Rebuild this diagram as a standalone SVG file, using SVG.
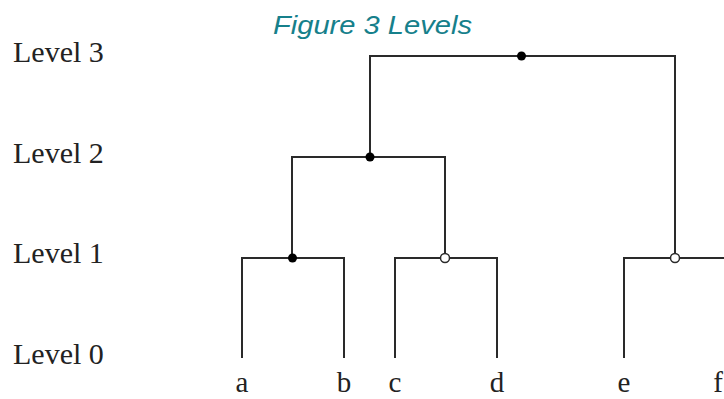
<svg xmlns="http://www.w3.org/2000/svg" width="724" height="399" viewBox="0 0 724 399">
  <style>
    .lvl { font-family: "Liberation Serif", "DejaVu Serif", serif; font-size: 30px; fill: #222; }
    .leaf { font-family: "Liberation Serif", "DejaVu Serif", serif; font-size: 29px; fill: #222; text-anchor: middle; }
    .title { font-family: "Liberation Sans", Arial, sans-serif; font-style: italic; font-size: 26px; fill: #16808b; }
    .edge { fill: none; stroke: #2a2a2a; stroke-width: 2; }
    .full { fill: #000; }
    .open { fill: #fff; stroke: #2a2a2a; stroke-width: 1.5; }
  </style>

  <text class="title" x="273" y="34" textLength="199" lengthAdjust="spacingAndGlyphs">Figure 3 Levels</text>

  <!-- level labels -->
  <g id="levels">
    <text class="lvl" x="13" y="62">Level 3</text>
    <text class="lvl" x="13" y="163">Level 2</text>
    <text class="lvl" x="13" y="263">Level 1</text>
    <text class="lvl" x="13" y="364">Level 0</text>
  </g>

  <!-- tree edges -->
  <g id="connectors">
    <path class="edge" d="M370,157 V56 H675 V258"/>
    <path class="edge" d="M292,258 V157 H445 V258"/>
    <path class="edge" d="M242,358 V258 H344 V358"/>
    <path class="edge" d="M395,358 V258 H497 V358"/>
    <path class="edge" d="M624,358 V258 H726"/>
  </g>

  <!-- merge nodes -->
  <g id="root"><circle class="full" cx="521.5" cy="56" r="4.5"/></g>
  <g id="abcd"><circle class="full" cx="370" cy="157" r="4.5"/></g>
  <g id="ab"><circle class="full" cx="292.5" cy="258" r="4.5"/></g>
  <g id="cd"><circle class="open" cx="445" cy="258" r="4.5"/></g>
  <g id="ef"><circle class="open" cx="675" cy="258" r="4.5"/></g>

  <!-- leaves -->
  <g id="leaf-a"><text class="leaf" x="242" y="392">a</text></g>
  <g id="leaf-b"><text class="leaf" x="344" y="392">b</text></g>
  <g id="leaf-c"><text class="leaf" x="395" y="392">c</text></g>
  <g id="leaf-d"><text class="leaf" x="497" y="392">d</text></g>
  <g id="leaf-e"><text class="leaf" x="624" y="392">e</text></g>
  <g id="leaf-f"><text class="leaf" x="718" y="392">f</text></g>
</svg>
